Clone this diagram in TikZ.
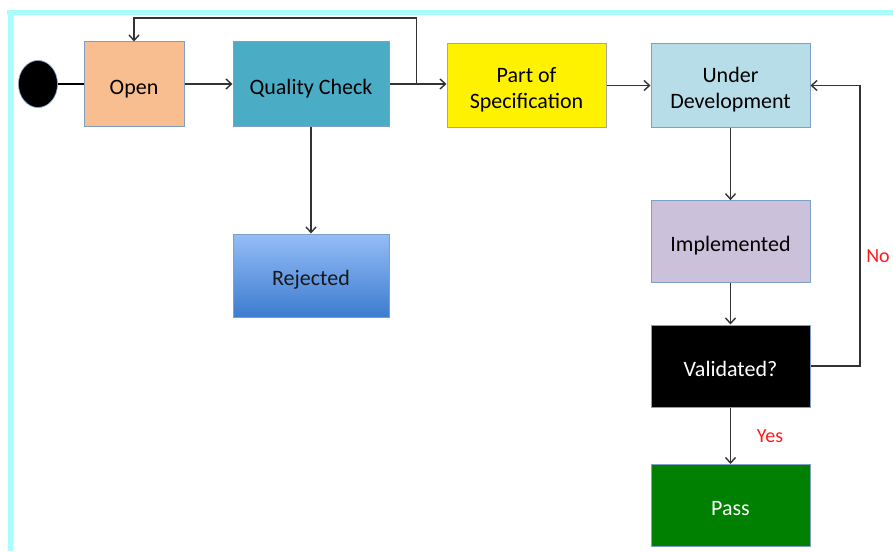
\documentclass[tikz,border=0pt]{standalone}
\usepackage{fontspec}
\setmainfont{Carlito}
\usetikzlibrary{arrows.meta,shapes.geometric}
\definecolor{frame}{HTML}{A8FCFC}
\definecolor{edge}{HTML}{7F9FC8}
\definecolor{wire}{HTML}{333333}
\definecolor{openc}{HTML}{F9BE8F}
\definecolor{qcc}{HTML}{4BACC6}
\definecolor{udc}{HTML}{B7DDE8}
\definecolor{implc}{HTML}{CCC1DA}
\definecolor{passc}{HTML}{008000}
\definecolor{rejtop}{HTML}{95BDF7}
\definecolor{rejbot}{HTML}{3C7CD0}
\definecolor{lbl}{HTML}{FF1A1A}
% fixed line metrics so every label sits at the same height in its box
\newcommand\boxstrut{\rule[-5pt]{0pt}{30pt}}
\newcommand\topstrut{\rule{0pt}{25pt}}
\newcommand\botstrut{\rule[-5pt]{0pt}{5pt}}
\begin{document}
\begin{tikzpicture}[x=1pt,y=-1pt,
  box/.style={draw=edge,line width=1pt,rectangle,minimum width=159pt,minimum height=83pt,
    align=center,font=\fontsize{22}{26}\selectfont,inner sep=2pt},
  arr/.style={draw=wire,line width=1.4pt,-{Straight Barb[length=5.5pt,width=10pt,line width=1.4pt]}},
  lab/.style={text=lbl,font=\fontsize{20}{24}\selectfont}]
\useasboundingbox (0,0) rectangle (893,551);
% outer frame lines
\draw[frame,line width=5pt] (7,12.5) -- (893,12.5);
\draw[frame,line width=5pt] (10,10) -- (10,551);
% start marker
\node[draw=edge,fill=black,ellipse,minimum width=39pt,minimum height=47pt,inner sep=0pt,line width=0.6pt] (start) at (38,84) {};
% states
\node[box,fill=openc,minimum width=100pt,minimum height=84pt] (open) at (134,84) {\boxstrut Open};
\node[box,fill=qcc,minimum width=156pt,minimum height=84pt] (qc) at (311,84) {\boxstrut Quality Check};
\node[box,fill=yellow,draw=gray!70] (spec) at (526.5,85.5) {\topstrut Part of\\\botstrut Specification};
\node[box,fill=udc] (dev) at (730.5,85.5) {\topstrut Under\\\botstrut Development};
\node[box,fill=implc,minimum height=82pt] (impl) at (730.5,241.7) {\boxstrut Implemented};
\node[box,fill=black,text=white,minimum height=82pt] (val) at (730.5,366) {\boxstrut Validated?};
\node[box,fill=passc,text=white,minimum height=82pt] (pass) at (730.5,505.5) {\boxstrut Pass};
\node[box,top color=rejtop,bottom color=rejbot,draw=edge,minimum width=156pt,text=black!90] (rej) at (311,275.5) {\boxstrut Rejected};
% connectors
\draw[black,line width=2.6pt] (start.east) -- (open.west);
\draw[arr] (open.east) -- (qc.west);
\draw[arr] (qc.east) -- (qc.east -| spec.west);
\coordinate (jn) at (416.7,84);
\coordinate (up) at (416.7,18);
\draw[arr] (jn) -- (up) -| (open.north);
\draw[arr] (spec.east) -- (dev.west);
\draw[arr] (qc.south) -- (rej.north);
\draw[arr] (dev.south) -- (impl.north);
\draw[arr] (impl.south) -- (val.north);
\draw[arr] (val.south) -- (pass.north);
\coordinate (rt) at (860,0);
\draw[arr] (val.east) -| (rt |- dev.east) -- (dev.east);
% branch labels
\node[lab] (no) at (878,256) {No};
\node[lab] (yes) at (770,436) {Yes};
\end{tikzpicture}
\end{document}
